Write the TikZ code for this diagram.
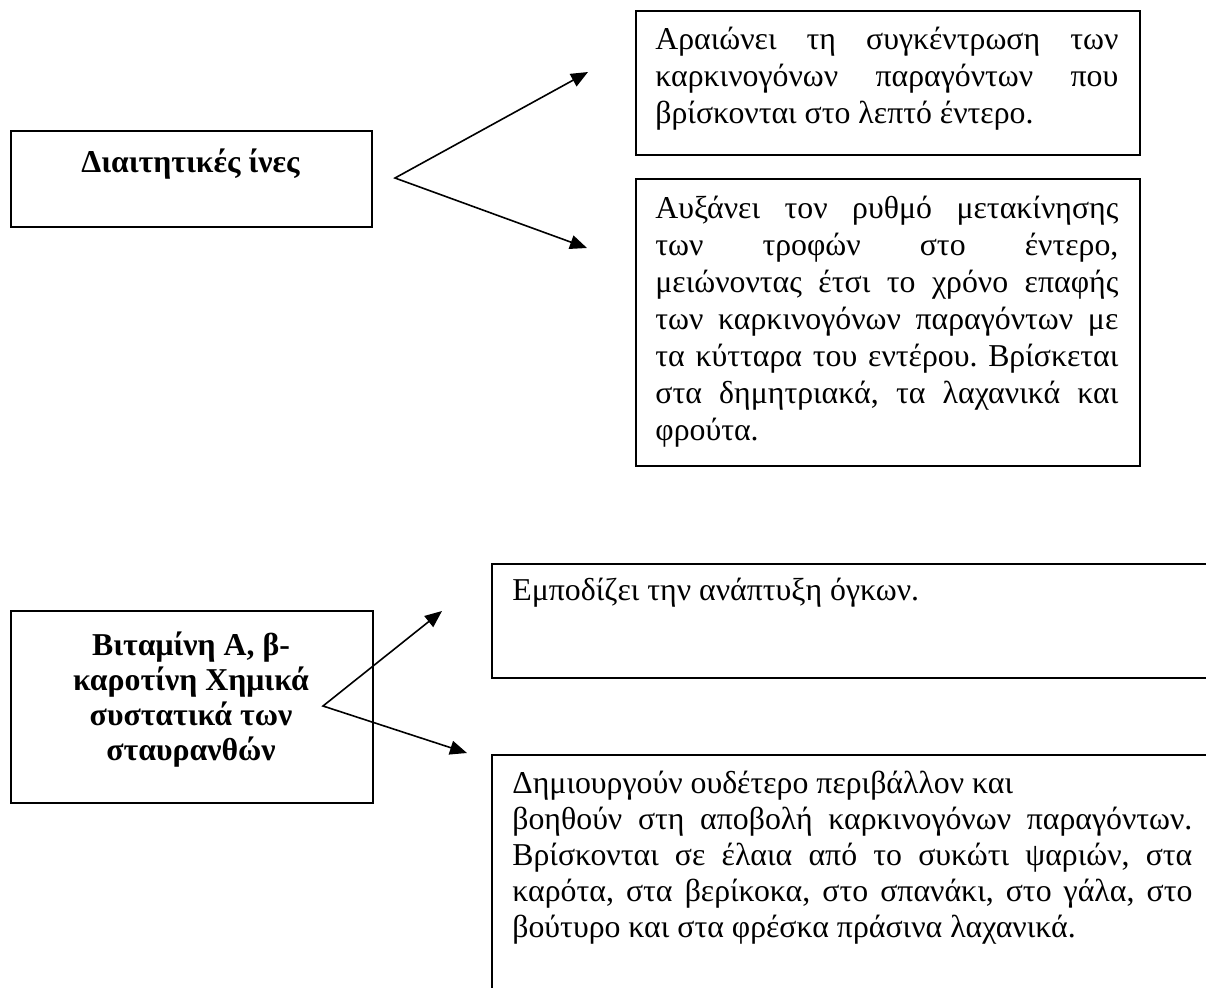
\documentclass[tikz,border=0pt]{standalone}
\usepackage{fontspec}
\setmainfont{Liberation Serif}
\usetikzlibrary{arrows.meta}
\newcommand\jline[1]{\makebox[\linewidth][s]{#1}}
\frenchspacing
\begin{document}
\begin{tikzpicture}[x=0.5pt,y=-0.5pt,
  box/.style={draw, line width=1pt, inner sep=0pt, anchor=north west},
  txt/.style={inner sep=0pt, anchor=base west, font=\fontsize{15.9}{18.5}\selectfont},
  boldtxt/.style={inner sep=0pt, anchor=base, font=\bfseries\fontsize{15.9}{17.5}\selectfont},
  conn/.style={line width=0.8pt, line join=miter, {Triangle[length=8.5pt,width=7pt]}-{Triangle[length=8.5pt,width=7pt]}}]
\useasboundingbox (0,0) rectangle (1206,987);
\clip (0,0) rectangle (1206,987);
\fill[white] (0,0) rectangle (1206,987);

% boxes
\node[box, minimum width=180.5pt, minimum height=48pt] (b1) at (10,130) {};
\node[box, minimum width=252pt, minimum height=72pt] (b2) at (635,10) {};
\node[box, minimum width=252pt, minimum height=143.5pt] (b3) at (635,178) {};
\node[box, minimum width=181pt, minimum height=96pt] (b4) at (10,610) {};
\node[box, minimum width=400pt, minimum height=57pt] (b5) at (491,563) {};
\node[box, minimum width=400pt, minimum height=150pt] (b6) at (491,754) {};

% texts
\node[boldtxt] (t1) at (190.5,172) {Διαιτητικές ίνες};
\node[boldtxt] (t4) at (191,655) {\parbox[t]{170pt}{\centering\bfseries\fontsize{15.9}{17.5}\selectfont
  Βιταμίνη Α, β-\\ καροτίνη Χημικά\\ συστατικά των\\ σταυρανθών}};
\node[txt] (t2) at (655,49) {\parbox[t]{231.5pt}{\fontsize{15.9}{18.5}\selectfont
  \jline{Αραιώνει τη συγκέντρωση των}\\
  \jline{καρκινογόνων παραγόντων που}\\
  βρίσκονται στο λεπτό έντερο.}};
\node[txt] (t3) at (655,218) {\parbox[t]{231.5pt}{\fontsize{15.9}{18.5}\selectfont
  \jline{Αυξάνει τον ρυθμό μετακίνησης}\\
  \jline{των τροφών στο έντερο,}\\
  \jline{μειώνοντας έτσι το χρόνο επαφής}\\
  \jline{των καρκινογόνων παραγόντων με}\\
  \jline{τα κύτταρα του εντέρου. Βρίσκεται}\\
  \jline{στα δημητριακά, τα λαχανικά και}\\
  φρούτα.}};
\node[txt] (t5) at (512,600) {Εμποδίζει την ανάπτυξη όγκων.};
\node[txt] (t6) at (512,793) {\parbox[t]{340pt}{\fontsize{15.9}{18}\selectfont
  Δημιουργούν ουδέτερο περιβάλλον και\\
  \jline{βοηθούν στη αποβολή καρκινογόνων παραγόντων.}\\
  \jline{Βρίσκονται σε έλαια από το συκώτι ψαριών, στα}\\
  \jline{καρότα, στα βερίκοκα, στο σπανάκι, στο γάλα, στο}\\
  βούτυρο και στα φρέσκα πράσινα λαχανικά.}};

% connectors
\coordinate (v1) at (395,178);
\coordinate (a1) at (588,72);
\coordinate (a2) at (587,248);
\coordinate (v2) at (323,706);
\coordinate (a3) at (442,611);
\coordinate (a4) at (467,753);
\draw[conn] (a1) -- (v1) -- (a2);
\draw[conn] (a3) -- (v2) -- (a4);
\end{tikzpicture}
\end{document}
